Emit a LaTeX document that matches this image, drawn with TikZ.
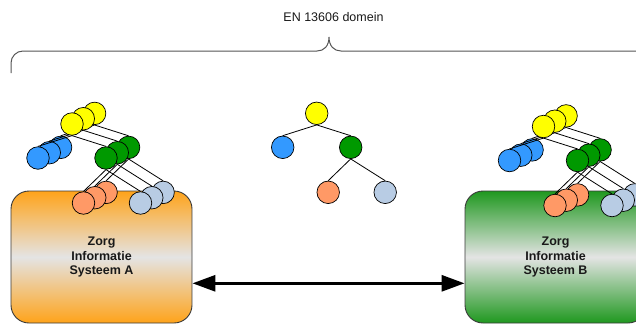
\documentclass[tikz,border=0pt]{standalone}
\usepackage{fontspec}
\setmainfont{Liberation Sans}
\usetikzlibrary{arrows.meta}

\definecolor{cyellow}{HTML}{FFFF00}
\definecolor{cblue}{HTML}{3399FF}
\definecolor{cgreen}{HTML}{009900}
\definecolor{corange}{HTML}{FF9966}
\definecolor{clight}{HTML}{B8CCE4}
\definecolor{boxorange}{HTML}{FFA31A}
\definecolor{boxgreen}{HTML}{1F981F}
\definecolor{boxmid}{HTML}{E4E4E4}
\definecolor{boxline}{HTML}{3A3A3A}
\definecolor{braceline}{HTML}{555555}

\tikzset{
  leaf/.style={circle, draw=black, line width=0.7pt, minimum size=22.5pt, inner sep=0pt},
  treeedge/.style={draw=black, line width=0.8pt},
  sysbox/.style={rectangle, rounded corners=18pt, draw=boxline, line width=0.9pt,
    minimum width=181pt, minimum height=132pt, align=center, text=black!90,
    font=\bfseries\fontsize{12.5}{14.3}\selectfont},
  biarrow/.style={line width=3pt,
    {Triangle[length=23pt,width=16pt]}-{Triangle[length=23pt,width=16pt]}},
  bracelin/.style={draw=braceline, line width=1pt},
  domtext/.style={font=\fontsize{12.5}{15}\selectfont, text=black!90}
}

% one hierarchy: root at (#2,#3), node names prefixed with #1
\newcommand\orgtree[3]{%
  \node[leaf, fill=cyellow] (#1y) at (#2,#3) {};
  \node[leaf, fill=cblue]   (#1b) at (#2-34,#3+34) {};
  \node[leaf, fill=cgreen]  (#1g) at (#2+34,#3+34) {};
  \node[leaf, fill=corange] (#1o) at (#2+11.5,#3+79) {};
  \node[leaf, fill=clight]  (#1l) at (#2+68.5,#3+79) {};
  \draw[treeedge] (#1y.south) -- (#1b.north);
  \draw[treeedge] (#1y.south) -- (#1g.north);
  \draw[treeedge] (#1g.south) -- (#1o.north);
  \draw[treeedge] (#1g.south) -- (#1l.north);
}

\begin{document}
\begin{tikzpicture}[x=1pt, y=-1pt]
\useasboundingbox (0,0) rectangle (636,325);
\clip (0,0) rectangle (636,325);

% domain brace
\node[domtext] (domlabel) at (333.5,17) {EN 13606 domein};
\draw[bracelin] (11,73) -- (11,63) .. controls (11,56.4) and (16.4,51) .. (23,51)
  -- (317,51) .. controls (324,51) and (329,46) .. (329,37)
  .. controls (329,46) and (334,51) .. (341,51)
  -- (635,51) .. controls (641.6,51) and (647,56.4) .. (647,63) -- (647,73);

% information systems
\node[sysbox, top color=boxorange, bottom color=boxorange, middle color=boxmid]
  (zisA) at (101.5,257) {Zorg\\Informatie\\Systeem A};
\node[sysbox, top color=boxgreen, bottom color=boxgreen, middle color=boxmid]
  (zisB) at (555.5,257) {Zorg\\Informatie\\Systeem B};

% exchange between the systems
\coordinate (lvl) at (0,283.3);
\draw[biarrow] (zisA.east |- lvl) -- (zisB.west |- lvl);

% stacked hierarchies on system A (back to front)
\orgtree{la}{94.6}{113.4}
\orgtree{lb}{83.3}{118.7}
\orgtree{lc}{72}{124}

% single hierarchy in the domain
\orgtree{m}{316.7}{113.3}

% stacked hierarchies on system B (back to front)
\orgtree{ra}{566.1}{115.9}
\orgtree{rb}{554.8}{121.2}
\orgtree{rc}{543.5}{126.5}
\end{tikzpicture}
\end{document}
